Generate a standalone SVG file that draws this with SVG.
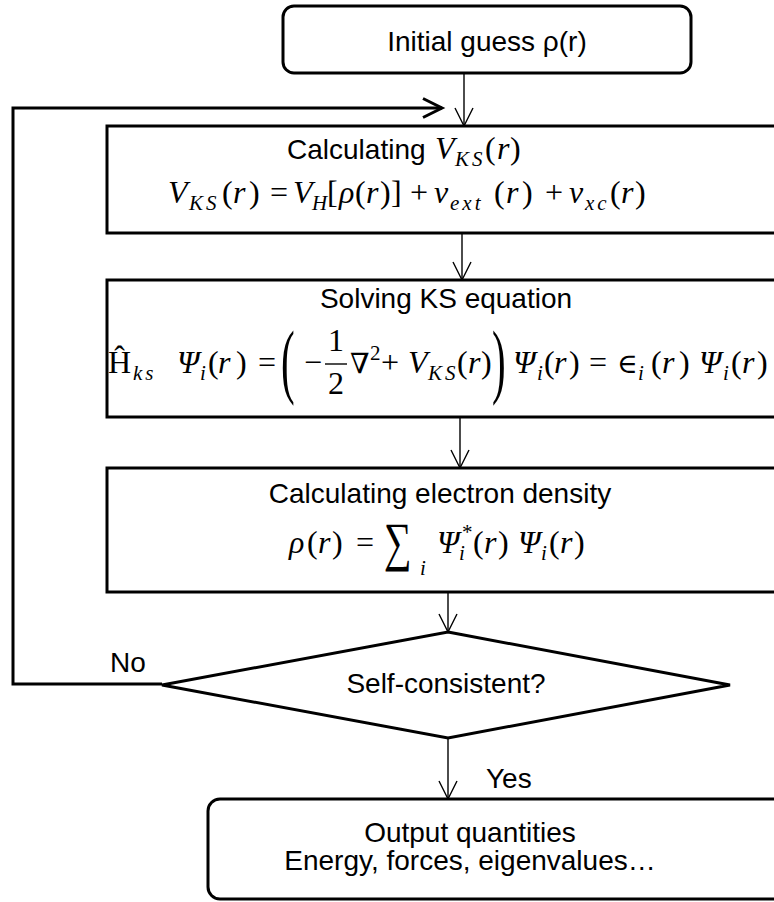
<svg xmlns="http://www.w3.org/2000/svg" width="774" height="902" viewBox="0 0 774 902">
<defs>
<style>
.bx{fill:#fff;stroke:#000;stroke-width:3}
.cn{fill:none;stroke:#000;stroke-width:1.4}
.fb{fill:none;stroke:#000;stroke-width:3}
.t{font-family:"Liberation Sans",Arial,sans-serif;font-size:28px;fill:#000}
.m{font-family:"Liberation Serif","DejaVu Serif",serif;font-size:32px;font-style:italic;fill:#000}
.u{font-style:normal}
.sb{font-size:21px}
.ls{letter-spacing:3px}
.op{font-size:28px}
.big{font-family:"Liberation Serif","DejaVu Serif",serif;font-size:82px;fill:#000}
.sum{font-family:"Liberation Serif","DejaVu Serif",serif;font-size:54px;fill:#000}
.bar{stroke:#000;stroke-width:1.4}
</style>
<marker id="ah" markerUnits="userSpaceOnUse" markerWidth="24" markerHeight="24" viewBox="-21 -12 24 24" refX="0" refY="0" orient="auto">
<path d="M-18,-9 L0,0 L-18,9" fill="none" stroke="#000" stroke-width="1.4"/>
</marker>
<marker id="ahb" markerUnits="userSpaceOnUse" markerWidth="26" markerHeight="26" viewBox="-22 -13 26 26" refX="0" refY="0" orient="auto">
<path d="M-19,-9.5 L0,0 L-19,9.5" fill="none" stroke="#000" stroke-width="3"/>
</marker>
</defs>
<rect width="774" height="902" fill="#fff"/>

<g id="connectors">
<path class="fb" d="M162,684 H13 V108 H442" marker-end="url(#ahb)"/>
<path class="cn" d="M464,73 V126" marker-end="url(#ah)"/>
<path class="cn" d="M462,233 V280" marker-end="url(#ah)"/>
<path class="cn" d="M460,417 V468" marker-end="url(#ah)"/>
<path class="cn" d="M448,592 V632" marker-end="url(#ah)"/>
<path class="cn" d="M448,738 V799" marker-end="url(#ah)"/>
<text class="t" x="110" y="672">No</text>
<text class="t" x="486" y="788">Yes</text>
</g>

<g id="start">
<rect class="bx" x="283" y="6" width="408" height="67" rx="11"/>
<text class="t" x="487" y="51" text-anchor="middle">Initial guess ρ(r)</text>
</g>

<g id="calc-vks">
<rect class="bx" x="107" y="126" width="800" height="107"/>
<text class="t" x="287" y="159">Calculating</text>
<text class="m"><tspan x="435" y="159">V</tspan><tspan class="sb ls" x="455" y="166">KS</tspan><tspan class="u" x="485" y="159">(</tspan><tspan x="497" y="159">r</tspan><tspan class="u" x="510" y="159">)</tspan></text>
<text class="m"><tspan x="168" y="203">V</tspan><tspan class="sb ls" x="189" y="210">KS</tspan><tspan class="u" x="222" y="203">(</tspan><tspan x="233" y="203">r</tspan><tspan class="u" x="249" y="203">)</tspan><tspan class="u" x="270" y="203">=</tspan><tspan x="293" y="203">V</tspan><tspan class="sb" x="312" y="210">H</tspan><tspan class="u" x="327" y="203">[</tspan><tspan x="339" y="203">ρ</tspan><tspan class="u" x="355" y="203">(</tspan><tspan x="366" y="203">r</tspan><tspan class="u" x="380" y="203">)</tspan><tspan class="u" x="391" y="203">]</tspan><tspan class="u" x="410" y="203">+</tspan><tspan x="434" y="203">v</tspan><tspan class="sb ls" x="450" y="210">ext</tspan><tspan class="u" x="494" y="203">(</tspan><tspan x="506" y="203">r</tspan><tspan class="u" x="522" y="203">)</tspan><tspan class="u" x="545" y="203">+</tspan><tspan x="569" y="203">v</tspan><tspan class="sb ls" x="585" y="210">xc</tspan><tspan class="u" x="610" y="203">(</tspan><tspan x="621" y="203">r</tspan><tspan class="u" x="635" y="203">)</tspan></text>
</g>

<g id="solve-ks">
<rect class="bx" x="107" y="280" width="800" height="137"/>
<text class="t" x="446" y="308" text-anchor="middle">Solving KS equation</text>
<text class="m"><tspan class="u" x="108" y="373">Ĥ</tspan><tspan class="sb ls" x="133" y="380">ks</tspan><tspan x="177" y="373">Ψ</tspan><tspan class="sb" x="200" y="380">i</tspan><tspan class="u" x="208" y="373">(</tspan><tspan x="218" y="373">r</tspan><tspan class="u" x="236" y="373">)</tspan><tspan class="u" x="258" y="373">=</tspan><tspan class="u" x="304" y="373">−</tspan><tspan class="op" x="350" y="373">∇</tspan><tspan class="sb u" x="370" y="360">2</tspan><tspan class="u" x="381" y="373">+</tspan><tspan x="408" y="373">V</tspan><tspan class="sb ls" x="428" y="380">KS</tspan><tspan class="u" x="457" y="373">(</tspan><tspan x="468" y="373">r</tspan><tspan class="u" x="481" y="373">)</tspan><tspan x="513" y="373">Ψ</tspan><tspan class="sb" x="537" y="380">i</tspan><tspan class="u" x="544" y="373">(</tspan><tspan x="554" y="373">r</tspan><tspan class="u" x="569" y="373">)</tspan><tspan class="u" x="589" y="373">=</tspan><tspan class="u op" x="617" y="373">∈</tspan><tspan class="sb" x="638" y="380">i</tspan><tspan class="u" x="651" y="373">(</tspan><tspan x="662" y="373">r</tspan><tspan class="u" x="679" y="373">)</tspan><tspan x="699" y="373">Ψ</tspan><tspan class="sb" x="723" y="380">i</tspan><tspan class="u" x="731" y="373">(</tspan><tspan x="742" y="373">r</tspan><tspan class="u" x="757" y="373">)</tspan></text>
<text class="m u" x="336" y="351" text-anchor="middle">1</text>
<line class="bar" x1="325" y1="364" x2="347" y2="364"/>
<text class="m u" x="336" y="394" text-anchor="middle">2</text>
<text class="big" transform="translate(281,388) scale(0.5,1)">(</text>
<text class="big" transform="translate(492,388) scale(0.5,1)">)</text>
</g>

<g id="calc-density">
<rect class="bx" x="107" y="468" width="800" height="124"/>
<text class="t" x="440" y="503" text-anchor="middle">Calculating electron density</text>
<text class="m"><tspan x="289" y="553">ρ</tspan><tspan class="u" x="307" y="553">(</tspan><tspan x="318" y="553">r</tspan><tspan class="u" x="332" y="553">)</tspan><tspan class="u" x="356" y="553">=</tspan><tspan class="sb" x="420" y="575">i</tspan><tspan x="437" y="553">Ψ</tspan><tspan class="sb" x="459" y="560">i</tspan><tspan class="sb u" x="462" y="539">*</tspan><tspan class="u" x="473" y="553">(</tspan><tspan x="484" y="553">r</tspan><tspan class="u" x="498" y="553">)</tspan><tspan x="518" y="553">Ψ</tspan><tspan class="sb" x="541" y="560">i</tspan><tspan class="u" x="549" y="553">(</tspan><tspan x="560" y="553">r</tspan><tspan class="u" x="574" y="553">)</tspan></text>
<text class="sum" transform="translate(384,560) scale(0.72,1)">∑</text>
</g>

<g id="decision">
<polygon class="bx" points="448,632 730,685 448,738 162,685"/>
<text class="t" x="446" y="693" text-anchor="middle">Self-consistent?</text>
</g>

<g id="output">
<rect class="bx" x="208" y="799" width="700" height="100" rx="12"/>
<text class="t" x="470" y="842" text-anchor="middle">Output quantities</text>
<text class="t" x="470" y="870" text-anchor="middle">Energy, forces, eigenvalues…</text>
</g>
</svg>
